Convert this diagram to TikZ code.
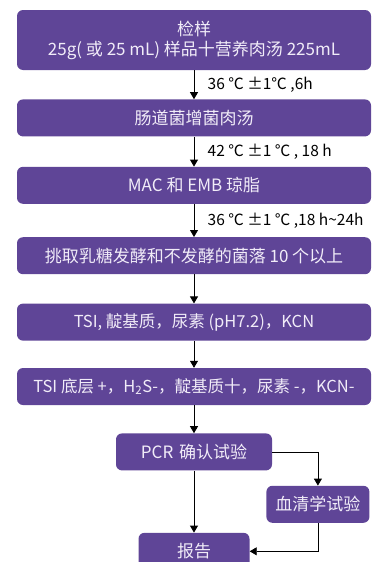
\documentclass[tikz,border=0pt]{standalone}
\usepackage{fontspec}
\setmainfont{Noto Sans CJK SC}
\usepackage{tikz}
\usetikzlibrary{arrows.meta,positioning}
\usepackage{xcolor}
\definecolor{boxpurple}{HTML}{5F4597}
\definecolor{boxtext}{HTML}{F1ECF8}

\begin{document}
\begin{tikzpicture}[
  node distance=29pt,
  block/.style={rectangle,fill=boxpurple,rounded corners=6pt,
    minimum width=354pt,minimum height=37pt,align=center,text=boxtext,
    font=\fontsize{17}{20}\selectfont,inner sep=2pt},
  smallblock/.style={block,minimum width=0pt,text width=#1,text centered},
  arrow/.style={-{Triangle[length=7pt,width=8pt]},line width=0.8pt,black},
  cond/.style={font=\fontsize{15.5}{20}\selectfont,anchor=west,xshift=10pt},
]
\useasboundingbox (0,0) rectangle (378pt,-562pt);

% Main steps
\node[block,minimum height=60pt] (sample) at (194pt,-40pt) {检样\\25g( 或 25 mL) 样品十营养肉汤 225mL};
\node[block,below=29pt of sample] (enrich) {肠道菌增菌肉汤};
\node[block,below=30pt of enrich] (agar) {MAC 和 EMB 琼脂};
\node[block,below=33pt of agar] (pick) {挑取乳糖发酵和不发酵的菌落 10 个以上};
\node[block,below=29pt of pick,font=\fontsize{16.5}{20}\selectfont] (biochem) {TSI, 靛基质，尿素 (pH7.2)，KCN};
\node[block,below=27pt of biochem,font=\fontsize{16.5}{20}\selectfont] (result) {TSI 底层 +，H\textsubscript{2}S-，靛基质十，尿素 -，KCN-};

% Confirmation
\node[smallblock=152pt,below=28pt of result] (pcr) {PCR 确认试验};
\node[smallblock=99pt,below right=15pt and -6pt of pcr.south east,anchor=north west] (serum) {血清学试验};
\node[smallblock=107pt,below=62pt of pcr] (report) {报告};

% Arrows
\draw[arrow] (sample) -- node[cond]{36 ℃ ±1℃ ,6h} (enrich);
\draw[arrow] (enrich) -- node[cond]{42 ℃ ±1 ℃ , 18 h} (agar);
\draw[arrow] (agar) -- node[cond]{36 ℃ ±1 ℃ ,18 h\textasciitilde 24h} (pick);
\draw[arrow] (pick) -- (biochem);
\draw[arrow] (biochem) -- (result);
\draw[arrow] (result) -- (pcr);
\draw[arrow] (pcr) -- (report);
\draw[arrow] (pcr.east) -| (serum.north);
\draw[arrow] (serum.south) |- (report.east);

\end{tikzpicture}
\end{document}
